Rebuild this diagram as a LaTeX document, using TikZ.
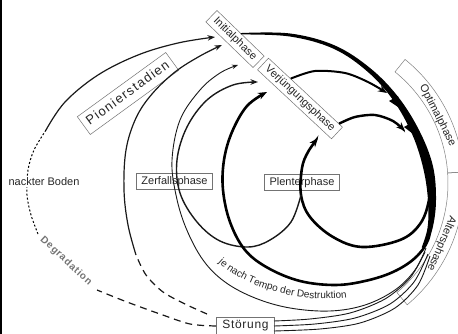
\documentclass[tikz,border=0pt]{standalone}
\usepackage{fontspec}
\setmainfont{Liberation Sans}
\usetikzlibrary{arrows.meta,calc,decorations.text}
\begin{document}
\begin{tikzpicture}[x=1pt,y=-1pt,
  phase/.style={draw=black!55, line width=0.5pt, fill=white, inner xsep=5pt, inner ysep=0pt,
    minimum height=16pt, text height=8pt, text depth=2.3pt,
    font=\fontsize{11}{13}\selectfont, text=black!85},
  lbl/.style={font=\fontsize{11}{13}\selectfont, text=black!85, inner sep=1pt},
  band/.style={draw=black!50, line width=0.5pt},
  thinln/.style={line width=0.9pt, draw=black!90},
  medln/.style={line width=1.4pt, draw=black!90},
  thickln/.style={line width=2.6pt, draw=black},
  pioln/.style={line width=1.2pt, draw=black!90},
  tipS/.style={-{Stealth[length=6pt,width=4.5pt]}},
  tipM/.style={-{Stealth[length=7.5pt,width=5.5pt]}},
  tipL/.style={-{Stealth[length=9pt,width=7pt]}},
  ldash/.style={dash pattern=on 7pt off 5pt},
  sdash/.style={dash pattern=on 2pt off 2pt},
]
\clip (0,0) rectangle (458,334);
\fill[white] (0,0) rectangle (458,334);
\fill[black] (0,0) rectangle (2,334);

% curved bands (centre 305,183; radii 143 / 159)
\draw[band] plot[domain=-51:-4, samples=30] ({305+143*cos(\x)},{183+143*sin(\x)})
  -- plot[domain=-4:-51, samples=30] ({305+159*cos(\x)},{183+159*sin(\x)}) -- cycle;
\draw[band] plot[domain=-4:50, samples=30] ({305+143*cos(\x)},{183+143*sin(\x)})
  -- plot[domain=50:-4, samples=30] ({305+159*cos(\x)},{183+159*sin(\x)}) -- cycle;
\node[lbl, rotate=-63] (opt) at (437.5,115.5) {Optimalphase};
\node[lbl, rotate=-113] (alt) at (441.5,243.8) {Altersphase};

% phase boxes
\node[phase, rotate=-44] (initial) at (235,39) {Initialphase};
\node[phase, rotate=-43] (verj) at (300,98.5) {Verjüngungsphase};
\node[phase] (zerfall) at (174.5,181.5) {Zerfallsphase};
\node[phase] (plenter) at (302,182.5) {Plenterphase};
\node[phase, font=\fontsize{12}{14}\selectfont\addfontfeatures{LetterSpace=6}, inner xsep=6pt, minimum height=18pt] (stoer) at (245.5,326) {Störung};
\node[phase, rotate=36, minimum width=108pt, minimum height=22pt, text height=10pt, text depth=3pt,
  font=\fontsize{13}{15}\selectfont\addfontfeatures{LetterSpace=10}] (pionier) at (128,93.5) {Pionierstadien};

% coordinates
\coordinate (c1) at (431,170);
\coordinate (c3) at (432,215);
\coordinate (cT) at (426,248);
\coordinate (tP) at (318,138);
\coordinate (tU) at (258,82);
\coordinate (tL3) at (267,92);
\coordinate (tT) at (238,65);
\coordinate (tB) at (222,45);
\coordinate (tA) at (215,37);
\coordinate (cusp) at (301,195);
\coordinate (v1s) at ($(verj.north west)!0.3!(verj.north east)$);
\coordinate (v2s) at ($(verj.north west)!0.95!(verj.north east)$);
\coordinate (tV1) at (387,93);
\coordinate (tV2) at (405,131);
\coordinate (bD) at (207,314);
\coordinate (bS) at (136,255);
\coordinate (aD) at (97,290);
\coordinate (aF) at (38,234);
\coordinate (aS) at (46,130);
\coordinate (jS) at (212,256);
\coordinate (jE) at (356,296);

% heavy sweep Initialphase -> right side
\fill[black] plot[smooth, tension=0.6] coordinates {(initial.north) (290.15,33.5) (334.7,45.4) (370.4,68.3) (398.3,97.1) (419.6,131.2) (432.9,165.9) (436,200) (432.5,228.5) (424.4,248.7)}
  -- plot[smooth, tension=0.6] coordinates {(421.7,247.3) (427.6,227.5) (428,200) (423.2,168.1) (412.4,134.8) (393.7,100.9) (367.6,71.7) (333.3,48.6) (289.85,36.5) (241,34.5)} -- cycle;
\fill[black] (389,101) -- (398,96) -- (401,109) -- cycle;
\fill[black] (404,127) -- (413,122) -- (417,137) -- cycle;

% Verjuengungsphase -> Optimalphase
\draw[line width=2pt, tipL] plot[smooth] coordinates {(v1s) (315,71) (345,73) (368,82) (tV1)};
\draw[line width=2.4pt, tipL] plot[smooth] coordinates {(v2s) (355,117) (375,115) (393,121) (tV2)};

% loops
\draw[thickln, tipL] plot[smooth, tension=0.6] coordinates {(c1) (429,200) (420,224) (400,240) (362,247) (333,237) (310,217) (cusp) (302,168) (308,152) (tP)};
\draw[medln, tipM] plot[smooth, tension=0.6] coordinates {(cusp) (291,222) (270,240) (248,247) (220,241) (197,222) (180,193) (177,160) (187,127) (207,100) (233,85) (tU)};
\draw[thickln, tipL] plot[smooth, tension=0.6] coordinates {(c3) (428,240) (415,258) (393,272) (365,281) (335,285) (300,281) (268,268) (245,250) (230,222) (223,190) (224,160) (232,132) (247,106) (tL3)};
\draw[thinln, tipS] plot[smooth, tension=0.6] coordinates {(cT) (415,270) (395,290) (365,305) (330,311) (290,308) (255,298) (225,282) (203,260) (186,228) (176,195) (172,160) (180,120) (200,90) (220,73) (tT)};

% Stoerung lines
\draw[thinln] plot[smooth] coordinates {(274,321) (310,319) (350,313) (385,299) (410,278) (425,252)};
\draw[thinln] plot[smooth] coordinates {(274,326) (315,324) (355,318) (390,304) (414,282) (428,254)};
\draw[thinln] plot[smooth] coordinates {(274,331) (320,329) (360,323) (395,308) (418,285) (430,256)};

% loop B
\draw[pioln, ldash] plot[smooth] coordinates {(bD) (185,304) (163,292) (146,275) (bS)};
\draw[pioln, tipM] plot[smooth, tension=0.6] coordinates {(bS) (128,225) (124,190) (126,150) (136,118) (152,94) (175,72) (200,56) (tB)};

% loop A (Pionierstadien / Degradation)
\draw[pioln, ldash] plot[smooth] coordinates {(stoer.west) (190,324) (160,314) (127,302) (aD)};
\draw[line width=1pt, sdash] plot[smooth] coordinates {(aF) (31,215) (27,195) (28,170) (34,150) (aS)};
\draw[pioln, tipM] plot[smooth, tension=0.6] coordinates {(aS) (65,102) (98,75) (138,55) (178,43) (tA)};

\node[lbl, fill=white] (boden) at (44,182) {nackter Boden};
\node[rotate=-43, text=black!55, inner sep=0pt, font=\fontsize{10}{12}\selectfont\bfseries\addfontfeatures{LetterSpace=8}] (degr) at (66,261) {Degradation};

\path[decorate, decoration={text along path, text align=center, text color=black!85,
  text={|\fontsize{10}{12}\selectfont|je nach Tempo der Destruktion}}]
  (jS) .. controls (235,284) and (300,307) .. (jE);
\end{tikzpicture}
\end{document}
